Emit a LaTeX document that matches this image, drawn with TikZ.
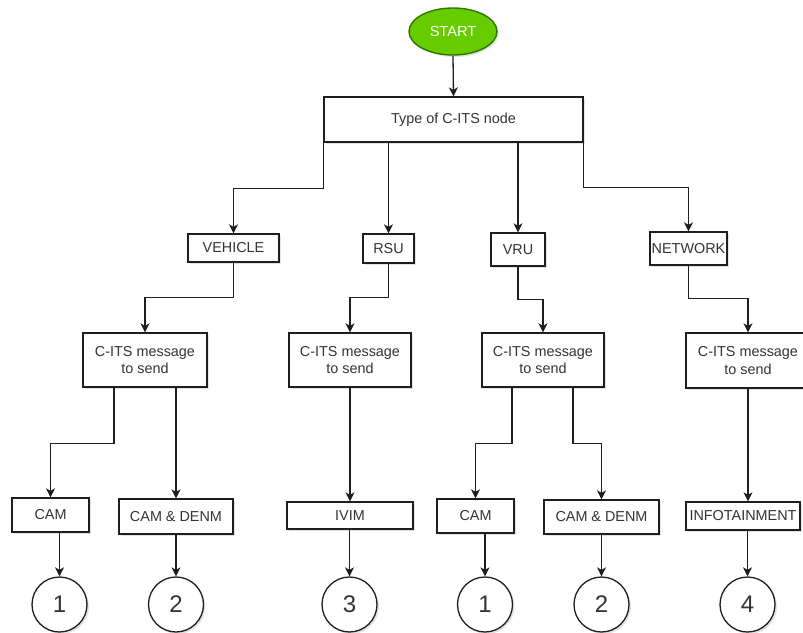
\documentclass[tikz,border=0pt]{standalone}
\usepackage{fontspec}
\setmainfont{Liberation Sans}
\usetikzlibrary{arrows.meta,shapes.geometric,shadows}

\definecolor{startfill}{HTML}{66CC00}
\definecolor{startline}{HTML}{2D7600}
\definecolor{inkline}{HTML}{1E1E1E}
\definecolor{inktext}{HTML}{333333}

\tikzset{
  softshadow/.style={drop shadow={shadow xshift=2pt,shadow yshift=-2pt,opacity=0.18,fill=black!60}},
  box/.style={draw=inkline, line width=1.3pt, fill=white, softshadow,
    inner sep=0pt, align=center, text=inktext,
    font=\fontsize{14.4}{17.3}\selectfont},
  startnode/.style={ellipse, draw=startline, fill=startfill, line width=1.4pt,
    softshadow, inner sep=0pt, minimum width=88pt, minimum height=47pt,
    text=white, font=\fontsize{14.6}{17.3}\selectfont},
  endpoint/.style={circle, draw=inkline, line width=1.3pt, fill=white, softshadow,
    inner sep=0pt, minimum size=55pt, text=inktext,
    font=\fontsize{24}{28}\selectfont},
  arr/.style={draw=inkline, line width=1.3pt, -{Stealth[length=9pt,width=9pt,inset=2.5pt]}},
}

\begin{document}
\begin{tikzpicture}[x=1pt,y=-1pt]
  \useasboundingbox (0,0) rectangle (803,632);

  % root and node types
  \node[startnode] (start) at (453,31.5) {START};
  \node[box, minimum width=259pt, minimum height=45pt] (type) at (453.5,119.5) {Type of C-ITS node};

  \node[box, minimum width=91pt, minimum height=28pt] (veh) at (233.5,248) {VEHICLE};
  \node[box, minimum width=51pt, minimum height=29pt] (rsu) at (388.5,248.5) {RSU};
  \node[box, minimum width=54pt, minimum height=33pt] (vru) at (518,249.5) {VRU};
  \node[box, minimum width=77pt, minimum height=33pt] (net) at (688.5,248.5) {NETWORK};

  % message selection
  \node[box, minimum width=124pt, minimum height=54pt] (m1) at (145,360) {C-ITS message\\to send};
  \node[box, minimum width=122pt, minimum height=54pt] (m2) at (350,360) {C-ITS message\\to send};
  \node[box, minimum width=122pt, minimum height=54pt] (m3) at (543,360) {C-ITS message\\to send};
  \node[box, minimum width=124pt, minimum height=55pt] (m4) at (748,360.5) {C-ITS message\\to send};

  % messages
  \node[box, minimum width=77pt, minimum height=34pt] (cam1) at (50.5,515) {CAM};
  \node[box, minimum width=114pt, minimum height=35pt] (cd1) at (176,516.5) {CAM \& DENM};
  \node[box, minimum width=126pt, minimum height=27pt] (ivim) at (350,515.5) {IVIM};
  \node[box, minimum width=77pt, minimum height=34pt] (cam2) at (475.5,516) {CAM};
  \node[box, minimum width=115pt, minimum height=34pt] (cd2) at (601.5,517) {CAM \& DENM};
  \node[box, minimum width=114pt, minimum height=28pt] (info) at (743,516) {INFOTAINMENT};

  % outcomes
  \node[endpoint] (c1) at (59.5,604.5) {1};
  \node[endpoint] (c2) at (176,604.5) {2};
  \node[endpoint] (c3) at (349.5,604.5) {3};
  \node[endpoint] (c4) at (485,604.5) {1};
  \node[endpoint] (c5) at (601.5,604.5) {2};
  \node[endpoint] (c6) at (747.5,604.5) {4};

  % connectors
  \draw[arr] (start.south) -- (type.north);
  \draw[arr] (type.south west) -- +(0,46) -| (veh.north);
  \draw[arr] (type.south -| rsu.north) -- (rsu.north);
  \draw[arr] (type.south -| vru.north) -- (vru.north);
  \draw[arr] (type.south east) -- +(0,45) -| (net.north);

  \draw[arr] (veh.south) -- +(0,35) -| (m1.north);
  \draw[arr] (rsu.south) -- +(0,34) -| (m2.north);
  \draw[arr] (vru.south) -- +(0,33) -| (m3.north);
  \draw[arr] (net.south) -- +(0,33) -| (m4.north);

  \draw[arr] ([xshift=-31pt]m1.south) -- +(0,56) -| (cam1.north);
  \draw[arr] (m1.south -| cd1.north) -- (cd1.north);
  \draw[arr] (m2.south) -- (ivim.north);
  \draw[arr] ([xshift=-31pt]m3.south) -- +(0,56) -| (cam2.north);
  \draw[arr] ([xshift=30pt]m3.south) -- +(0,56) -| (cd2.north);
  \draw[arr] (m4.south) -- (m4.south |- info.north);

  \draw[arr] (cam1.south -| c1.north) -- (c1.north);
  \draw[arr] (cd1.south) -- (c2.north);
  \draw[arr] (ivim.south -| c3.north) -- (c3.north);
  \draw[arr] (cam2.south -| c4.north) -- (c4.north);
  \draw[arr] (cd2.south) -- (c5.north);
  \draw[arr] (info.south -| c6.north) -- (c6.north);
\end{tikzpicture}
\end{document}
